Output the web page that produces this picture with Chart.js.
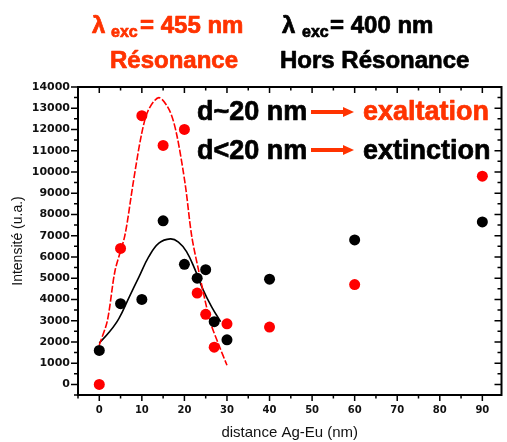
<!DOCTYPE html>
<html>
<head>
<meta charset="utf-8">
<script src="https://cdn.jsdelivr.net/npm/chart.js@4"></script>
<style>
  body { margin: 0; background: #fff; }
  canvas { display: block; }
</style>
</head>
<body>
<canvas id="myChart" width="507" height="442"></canvas>
<script>
// mesures (points)
const distance = [0, 5, 10, 15, 20, 23, 25, 27, 30, 40, 60, 90];
const intensite455 = [0, 6400, 12650, 11250, 12000, 4300, 3300, 1750, 2850, 2700, 4700, 9800];
const intensite400 = [1600, 3800, 4000, 7700, 5650, 5000, 5400, 2950, 2100, 4950, 6800, 7650];

// courbes d'ajustement
const fit455X = [0, 1.9, 3.7, 6.0, 7.9, 9.9, 11.5, 14.0, 16.5, 18.2, 20.2, 21.7, 23.3, 26.0, 28.0, 30.0];
const fit455Y = [1850, 3000, 5350, 7000, 9400, 11750, 12900, 13500, 12900, 11750, 9400, 7000, 5400, 3000, 1900, 900];
const fit400X = [0, 2.3, 4.6, 7.0, 9.3, 11.6, 14.0, 16.7, 18.6, 20.5, 22.5, 24.4, 26.4, 28.5];
const fit400Y = [1950, 2450, 3100, 4100, 5050, 6000, 6650, 6850, 6700, 6250, 5400, 4450, 3650, 2950];

const xTicks = [0, 10, 20, 30, 40, 50, 60, 70, 80, 90];
const yTicks = [0, 1000, 2000, 3000, 4000, 5000, 6000, 7000, 8000, 9000, 10000, 11000, 12000, 13000, 14000];

const ORANGE = "#ff3300";

function pts(xs, ys) {
  return xs.map((v, i) => ({ x: v, y: ys[i] }));
}

// cadre + graduations (majeures / mineures)
const cadre = {
  id: "cadre",
  afterDraw(chart) {
    const { ctx, chartArea: a, scales: { x, y } } = chart;
    ctx.save();
    ctx.strokeStyle = "#000";
    ctx.lineWidth = 2;
    ctx.strokeRect(a.left, a.top, a.right - a.left, a.bottom - a.top);
    ctx.lineWidth = 1.5;
    ctx.beginPath();
    x.ticks.forEach((t) => {
      if (t.value % 5 !== 0) return;
      const px = x.getPixelForValue(t.value);
      const len = xTicks.includes(t.value) ? 6 : 3.5;
      ctx.moveTo(px, a.bottom); ctx.lineTo(px, a.bottom + len);
      ctx.moveTo(px, a.top); ctx.lineTo(px, a.top + len);
    });
    y.ticks.forEach((t) => {
      if (t.value % 500 !== 0) return;
      const py = y.getPixelForValue(t.value);
      const len = yTicks.includes(t.value) ? 7 : 4;
      ctx.moveTo(a.left, py); ctx.lineTo(a.left - len, py);
      ctx.moveTo(a.right, py); ctx.lineTo(a.right - len, py);
    });
    ctx.stroke();
    ctx.restore();
  },
};

function fleche(ctx, x0, x1, yy) {
  ctx.fillStyle = ORANGE;
  ctx.fillRect(x0, yy - 2, x1 - 10 - x0, 4);
  ctx.beginPath();
  ctx.moveTo(x1 - 11, yy - 5);
  ctx.lineTo(x1, yy);
  ctx.lineTo(x1 - 11, yy + 5);
  ctx.closePath();
  ctx.fill();
}

// texte gras un peu plus epais (contour fin)
function gras(ctx, txt, x, y, color) {
  ctx.fillStyle = color;
  ctx.strokeStyle = color;
  ctx.lineWidth = 0.7;
  ctx.fillText(txt, x, y);
  ctx.strokeText(txt, x, y);
}

// textes d'en-tête et annotations
const textes = {
  id: "textes",
  afterDraw(chart) {
    const ctx = chart.ctx;
    ctx.save();
    ctx.textBaseline = "alphabetic";
    ctx.textAlign = "left";
    ctx.lineJoin = "round";
    const big = 'bold 24px "Liberation Sans", Arial, sans-serif';
    const sub = 'bold 16px "Liberation Sans", Arial, sans-serif';

    ctx.font = big; gras(ctx, "λ", 92, 33, ORANGE);
    ctx.font = sub; gras(ctx, "exc", 111, 37, ORANGE);
    ctx.font = big; gras(ctx, "= 455 nm", 140, 33, ORANGE);
    gras(ctx, "Résonance", 110, 68, ORANGE);

    ctx.font = big; gras(ctx, "λ", 282, 33, "#000");
    ctx.font = sub; gras(ctx, "exc", 302, 37, "#000");
    ctx.font = big; gras(ctx, "= 400 nm", 330, 33, "#000");
    gras(ctx, "Hors Résonance", 280, 68, "#000");

    ctx.font = 'bold 27px "Liberation Sans", Arial, sans-serif';
    gras(ctx, "d~20 nm", 197, 120, "#000");
    gras(ctx, "d<20 nm", 197, 159, "#000");
    gras(ctx, "extinction", 363, 159, "#000");
    gras(ctx, "exaltation", 363, 120, ORANGE);
    fleche(ctx, 311, 354, 112);
    fleche(ctx, 311, 354, 150);
    ctx.restore();
  },
};

const ctx = document.getElementById("myChart");
const myChart = new Chart(ctx, {
  type: "scatter",
  data: {
    datasets: [
      {
        label: "λexc = 455 nm",
        data: pts(distance, intensite455),
        backgroundColor: "#ff0000",
        borderWidth: 0,
        pointRadius: 5.5,
        order: 1,
      },
      {
        label: "λexc = 400 nm",
        data: pts(distance, intensite400),
        backgroundColor: "#000",
        borderWidth: 0,
        pointRadius: 5.5,
        order: 1,
      },
      {
        type: "line",
        label: "ajustement 455",
        data: pts(fit455X, fit455Y),
        borderColor: "#ff0000",
        borderWidth: 1.6,
        borderDash: [7, 2],
        pointRadius: 0,
        tension: 0.3,
        fill: false,
        order: 2,
      },
      {
        type: "line",
        label: "ajustement 400",
        data: pts(fit400X, fit400Y),
        borderColor: "#000",
        borderWidth: 1.6,
        pointRadius: 0,
        tension: 0.4,
        fill: false,
        order: 2,
      },
    ],
  },
  options: {
    responsive: false,
    animation: false,
    layout: { padding: { top: 87, right: 2, left: 0, bottom: 0 } },
    plugins: {
      legend: { display: false },
      tooltip: { enabled: false },
    },
    scales: {
      x: {
        type: "linear",
        min: -5,
        max: 94.5,
        afterFit: (s) => { s.height = 47; },
        ticks: {
          stepSize: 5,
          includeBounds: false,
          autoSkip: false,
          maxRotation: 0,
          padding: 9,
          color: "#111",
          font: { family: "DejaVu Sans", size: 10, weight: "bold" },
          callback: (v) => (xTicks.includes(v) ? String(v) : ""),
        },
        grid: { display: true, drawOnChartArea: false, drawTicks: false, color: "rgba(0,0,0,0)" },
        border: { display: false },
        title: {
          display: true,
          text: "distance Ag-Eu (nm)",
          color: "#111",
          font: { family: "Liberation Sans", size: 15 },
          padding: { top: 0, bottom: 0 },
        },
      },
      y: {
        type: "linear",
        min: -500,
        max: 14000,
        afterFit: (s) => { s.width = 78; },
        ticks: {
          stepSize: 500,
          autoSkip: false,
          padding: 8,
          color: "#111",
          font: { family: "DejaVu Sans", size: 11, weight: "bold" },
          callback: (v) => (yTicks.includes(v) ? String(v) : ""),
        },
        grid: { display: true, drawOnChartArea: false, drawTicks: false, color: "rgba(0,0,0,0)" },
        border: { display: false },
        title: {
          display: true,
          text: "Intensité (u.a.)",
          color: "#111",
          font: { family: "Liberation Sans", size: 14 },
          padding: { top: 10, bottom: 0 },
        },
      },
    },
  },
  plugins: [cadre, textes],
});
</script>
</body>
</html>
